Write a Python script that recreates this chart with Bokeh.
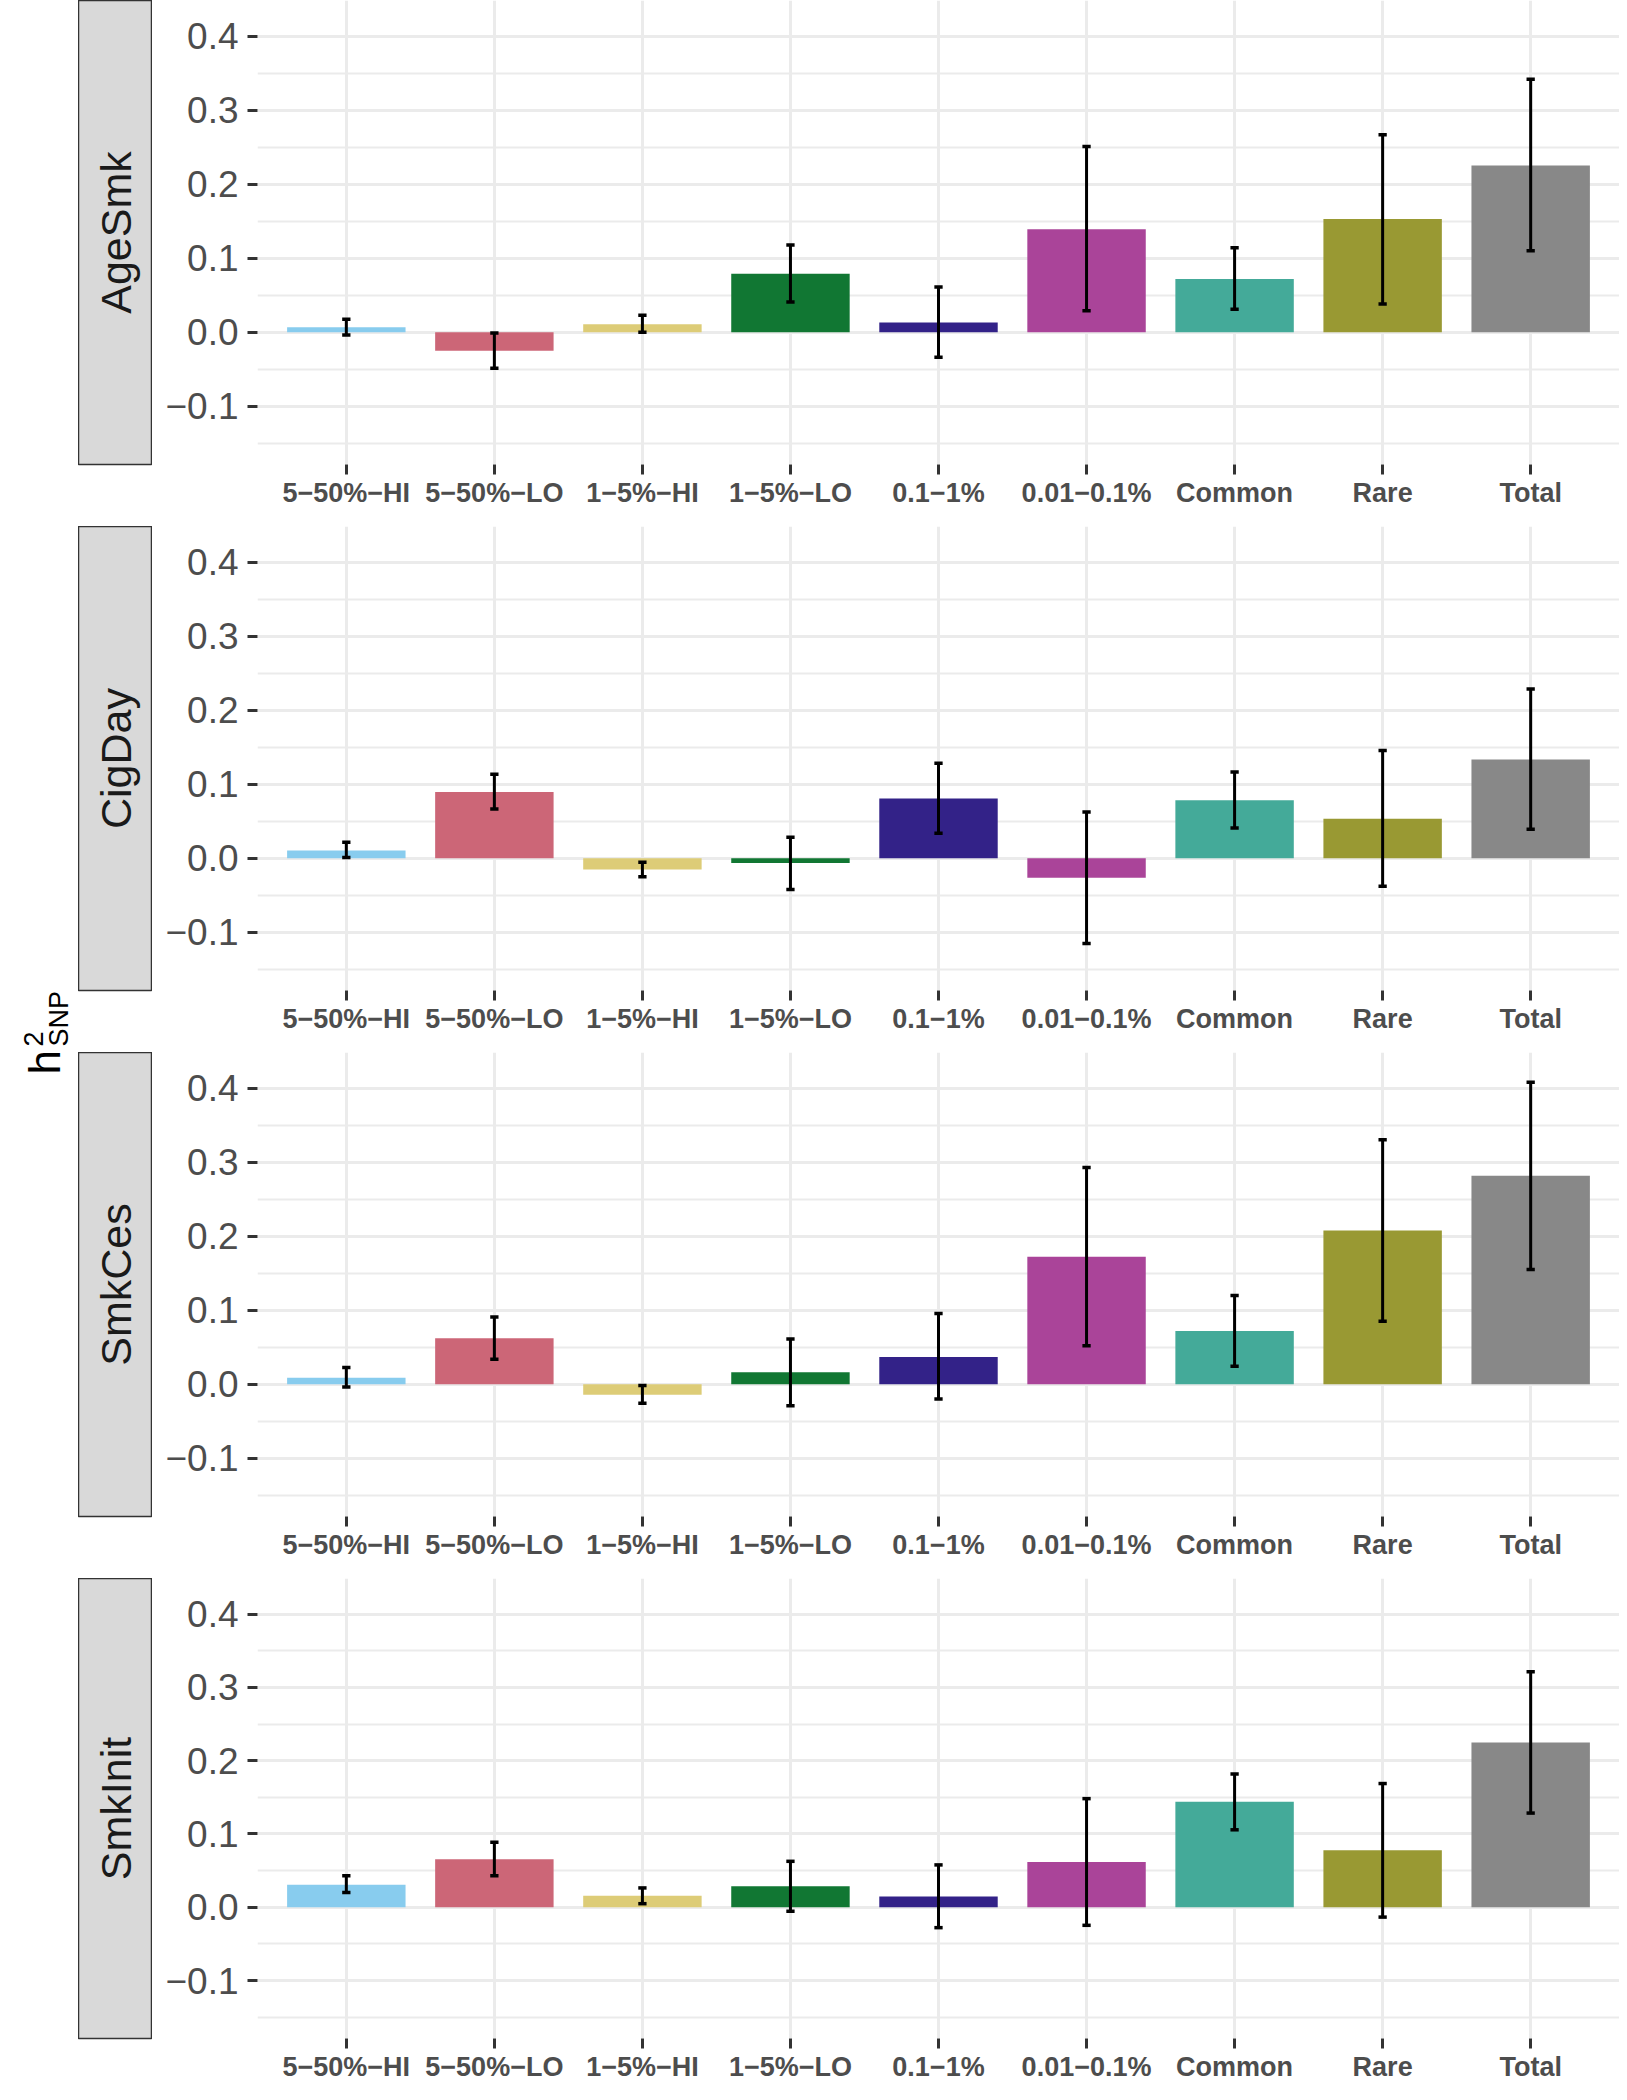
import math
from bokeh.plotting import figure
from bokeh.models import Range1d, FixedTicker, ColumnDataSource
from bokeh.layouts import row, column
from bokeh.core.properties import value
from bokeh.embed import file_html
from bokeh.resources import INLINE

# ---------------- data ----------------
categories = ["5−50%−HI", "5−50%−LO", "1−5%−HI", "1−5%−LO", "0.1−1%",
              "0.01−0.1%", "Common", "Rare", "Total"]
bar_colors = ["#88CCEE", "#CC6677", "#DDCC77", "#117733", "#332288",
              "#AA4499", "#44AA99", "#999933", "#888888"]
traits = ["AgeSmk", "CigDay", "SmkCes", "SmkInit"]

agesmk_val = [0.0067, -0.025, 0.0107, 0.0788, 0.013, 0.139, 0.072, 0.153, 0.2255]
agesmk_lo = [-0.004, -0.049, 0.0, 0.0408, -0.034, 0.029, 0.031, 0.038, 0.110]
agesmk_hi = [0.0175, -0.001, 0.0228, 0.1178, 0.061, 0.251, 0.114, 0.267, 0.342]

cigday_val = [0.0103, 0.0896, -0.0152, -0.0065, 0.0806, -0.0264, 0.0784, 0.0533, 0.1335]
cigday_lo = [0.001, 0.0663, -0.0251, -0.0425, 0.0338, -0.1156, 0.0408, -0.0381, 0.039]
cigday_hi = [0.0215, 0.1133, -0.0054, 0.0282, 0.1283, 0.0623, 0.1164, 0.1455, 0.2289]

smkces_val = [0.0085, 0.0622, -0.0143, 0.0161, 0.0367, 0.1724, 0.0717, 0.2078, 0.2817]
smkces_lo = [-0.004, 0.0336, -0.026, -0.0291, -0.0201, 0.052, 0.0242, 0.0851, 0.155]
smkces_hi = [0.0224, 0.0909, -0.0018, 0.0609, 0.0954, 0.2929, 0.12, 0.3305, 0.4084]

smkinit_val = [0.0309, 0.0654, 0.0157, 0.0287, 0.0148, 0.0618, 0.1438, 0.0779, 0.2249]
smkinit_lo = [0.0202, 0.043, 0.0049, -0.0054, -0.0278, -0.0246, 0.1057, -0.0134, 0.1285]
smkinit_hi = [0.043, 0.0887, 0.0264, 0.0627, 0.0578, 0.1482, 0.1818, 0.1688, 0.3214]

y_ticks = [-0.1, 0.0, 0.1, 0.2, 0.3, 0.4]
y_tick_labels = ["−0.1", "0.0", "0.1", "0.2", "0.3", "0.4"]
y_minor = [-0.15, -0.05, 0.05, 0.15, 0.25, 0.35]

series = [
    (agesmk_val, agesmk_lo, agesmk_hi),
    (cigday_val, cigday_lo, cigday_hi),
    (smkces_val, smkces_lo, smkces_hi),
    (smkinit_val, smkinit_lo, smkinit_hi),
]

# ---------------- layout constants ----------------
FONT = "Liberation Sans"
PANEL_H = 464
AXIS_H = 62
AXIS_H_LAST = 42
MAIN_W = 1467
STRIP_W = 74
TITLE_W = 78
GRID = "#EBEBEB"

positions = [i + 1 for i in range(len(categories))]
CAP = 0.028


def make_main(vals, lo, hi, bottom_h):
    p = figure(width=MAIN_W, height=PANEL_H + bottom_h,
               x_range=Range1d(0.4, 9.6), y_range=Range1d(-0.179, 0.4485),
               output_backend="svg", toolbar_location=None,
               min_border_left=105, min_border_right=0, min_border_top=0,
               min_border_bottom=bottom_h)
    p.outline_line_color = None
    p.background_fill_color = "white"
    p.border_fill_color = "white"

    src = ColumnDataSource(dict(x=positions, top=vals, lo=lo, hi=hi,
                                color=bar_colors,
                                xl=[x - CAP for x in positions],
                                xr=[x + CAP for x in positions]))
    p.vbar(x="x", top="top", bottom=0, width=0.8, fill_color="color",
           line_color=None, source=src)
    p.segment(x0="x", y0="lo", x1="x", y1="hi", line_color="black",
              line_width=3, source=src)
    p.segment(x0="xl", y0="lo", x1="xr", y1="lo", line_color="black",
              line_width=3.5, source=src)
    p.segment(x0="xl", y0="hi", x1="xr", y1="hi", line_color="black",
              line_width=3.5, source=src)

    # x axis
    p.xaxis.ticker = FixedTicker(ticks=positions)
    p.xaxis.major_label_overrides = {x: c for x, c in zip(positions, categories)}
    p.xaxis.axis_line_color = None
    p.xaxis.major_tick_line_color = "#333333"
    p.xaxis.major_tick_line_width = 3
    p.xaxis.major_tick_out = 10
    p.xaxis.major_tick_in = 0
    p.xaxis.minor_tick_line_color = None
    p.xaxis.major_label_text_font = FONT
    p.xaxis.major_label_text_font_style = "bold"
    p.xaxis.major_label_text_font_size = "27px"
    p.xaxis.major_label_text_color = "#4D4D4D"
    p.xaxis.major_label_standoff = 3

    # y axis
    p.yaxis.ticker = FixedTicker(ticks=y_ticks, minor_ticks=y_minor)
    p.yaxis.major_label_overrides = {t: l for t, l in zip(y_ticks, y_tick_labels)}
    p.yaxis.axis_line_color = None
    p.yaxis.major_tick_line_color = "#333333"
    p.yaxis.major_tick_line_width = 3
    p.yaxis.major_tick_out = 10
    p.yaxis.major_tick_in = 0
    p.yaxis.minor_tick_line_color = None
    p.yaxis.major_label_text_font = FONT
    p.yaxis.major_label_text_font_size = "37px"
    p.yaxis.major_label_text_color = "#4D4D4D"
    p.yaxis.major_label_standoff = 9

    # grids
    p.xgrid.grid_line_color = GRID
    p.xgrid.grid_line_width = 3
    p.ygrid.grid_line_color = GRID
    p.ygrid.grid_line_width = 3
    p.ygrid.minor_grid_line_color = GRID
    p.ygrid.minor_grid_line_width = 2
    return p


def make_strip(name, bottom_h):
    s = figure(width=STRIP_W, height=PANEL_H + bottom_h,
               x_range=Range1d(0, 1), y_range=Range1d(0, 1),
               output_backend="svg", toolbar_location=None,
               x_axis_location=None, y_axis_location=None,
               min_border_left=0, min_border_right=0, min_border_top=0,
               min_border_bottom=bottom_h)
    s.grid.visible = False
    s.background_fill_color = "#D9D9D9"
    s.border_fill_color = "white"
    s.outline_line_color = "#333333"
    s.outline_line_width = 1.5
    s.text(x=[0.5], y=[0.5], text=[name], angle=math.pi / 2,
           text_align="center", text_baseline="middle",
           text_font=value(FONT), text_font_size="43px",
           text_color="#1A1A1A")
    return s


rows = []
for i, (name, (v, lo, hi)) in enumerate(zip(traits, series)):
    bh = AXIS_H_LAST if i == len(traits) - 1 else AXIS_H
    rows.append(row(make_strip(name, bh), make_main(v, lo, hi, bh)))

total_h = 3 * (PANEL_H + AXIS_H) + PANEL_H + AXIS_H_LAST

t = figure(width=TITLE_W, height=total_h,
           x_range=Range1d(0, TITLE_W), y_range=Range1d(total_h, 0),
           output_backend="svg", toolbar_location=None,
           x_axis_location=None, y_axis_location=None,
           min_border_left=0, min_border_right=0, min_border_top=0,
           min_border_bottom=0)
t.grid.visible = False
t.outline_line_color = None
t.background_fill_color = "white"
t.border_fill_color = "white"
t.text(x=[44], y=[1074], text=["h"], angle=math.pi / 2, text_align="left",
       text_baseline="alphabetic", text_font=value(FONT),
       text_font_size="44px", text_color="black")
t.text(x=[33, 58], y=[1046, 1046], text=["2", "SNP"], angle=math.pi / 2,
       text_align="left", text_baseline="alphabetic", text_font=value(FONT),
       text_font_size="27px", text_color="black")

layout = row(t, column(*rows))

open("out.html", "w").write(file_html(layout, INLINE))
